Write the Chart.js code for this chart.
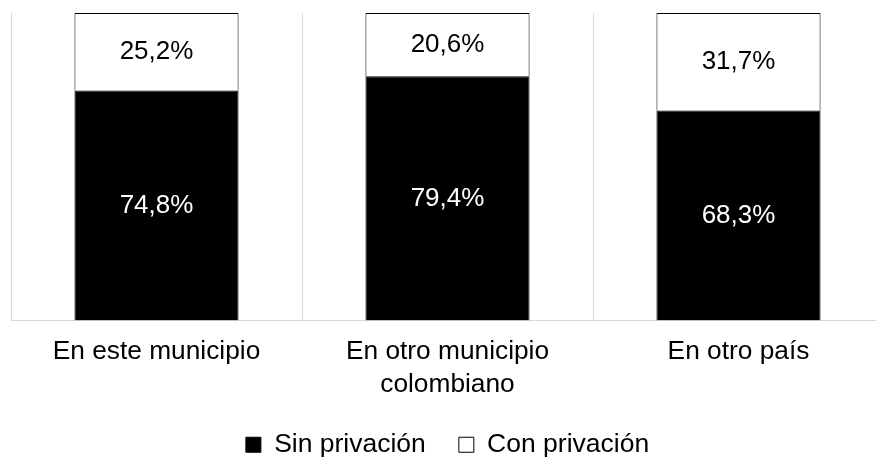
<!DOCTYPE html>
<html>
<head>
<meta charset="utf-8">
<script src="https://cdn.jsdelivr.net/npm/chart.js@4/dist/chart.umd.min.js"></script>
<style>
  html, body { margin: 0; padding: 0; background: #fff; overflow: hidden; width: 876px; height: 458px; }
  #wrap { width: 886px; height: 458px; position: relative; }
</style>
</head>
<body>
<div id="wrap"><canvas id="c"></canvas></div>
<script>
const categories = [
  "En este municipio",
  ["En otro municipio", "colombiano"],
  "En otro país"
];
const seriesNames = ["Sin privación", "Con privación"];
const sinPrivacion = [74.8, 79.4, 68.3];
const conPrivacion = [25.2, 20.6, 31.7];

const FONT = "'Liberation Sans', Arial, sans-serif";

const labelPlugin = {
  id: 'segLabels',
  afterDatasetsDraw(chart) {
    const ctx = chart.ctx;
    ctx.save();
    ctx.font = "26px " + FONT;
    ctx.textAlign = 'center';
    ctx.textBaseline = 'middle';
    chart.data.datasets.forEach((ds, di) => {
      const meta = chart.getDatasetMeta(di);
      meta.data.forEach((el, i) => {
        const v = ds.data[i];
        const txt = v.toFixed(1).replace('.', ',') + '%';
        ctx.fillStyle = di === 0 ? '#ffffff' : '#000000';
        ctx.fillText(txt, el.x, (el.y + el.base) / 2);
      });
    });
    ctx.restore();
  }
};

new Chart(document.getElementById('c'), {
  type: 'bar',
  data: {
    labels: categories,
    datasets: [
      {
        label: seriesNames[0],
        data: sinPrivacion,
        backgroundColor: '#000000',
        borderColor: '#000000',
        borderWidth: 1,
        barPercentage: 0.564,
        categoryPercentage: 1
      },
      {
        label: seriesNames[1],
        data: conPrivacion,
        backgroundColor: '#ffffff',
        borderColor: '#000000',
        borderWidth: 1,
        barPercentage: 0.564,
        categoryPercentage: 1
      }
    ]
  },
  options: {
    responsive: true,
    maintainAspectRatio: false,
    animation: false,
    layout: { padding: { top: 13, left: 11, right: 2, bottom: -10 } },
    plugins: {
      tooltip: { enabled: false },
      legend: {
        position: 'bottom',
        labels: {
          color: '#000',
          font: { family: FONT, size: 26.5 },
          boxWidth: 15,
          boxHeight: 15,
          padding: 33
        }
      }
    },
    scales: {
      x: {
        stacked: true,
        offset: true,
        afterFit: (s) => { s.height = 78; },
        grid: { display: true, color: '#d9d9d9', lineWidth: 1, drawTicks: false, offset: true },
        border: { display: true, color: '#d9d9d9', width: 1 },
        ticks: {
          color: '#000',
          font: { family: FONT, size: 26.3, lineHeight: 1.255 },
          padding: 15,
          maxRotation: 0,
          autoSkip: false
        }
      },
      y: {
        stacked: true,
        display: false,
        min: 0,
        max: 100
      }
    }
  },
  plugins: [labelPlugin]
});
</script>
</body>
</html>
